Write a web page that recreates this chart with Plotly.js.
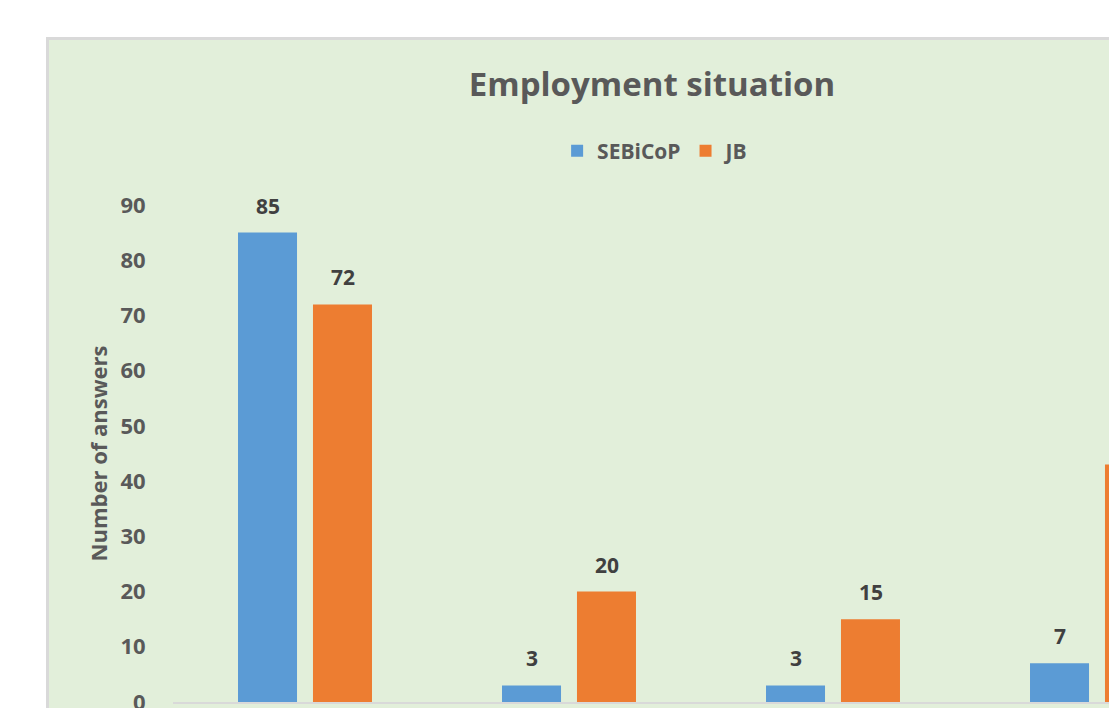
<!DOCTYPE html>
<html>
<head>
<meta charset="utf-8">
<script src="https://cdn.plot.ly/plotly-3.0.1.min.js"></script>
<style>
  html, body { margin:0; padding:0; width:1109px; height:708px; overflow:hidden; background:#ffffff; }
  #frame { position:absolute; left:46px; top:37px; border-top:3px solid #D9D9D9; border-left:3px solid #D9D9D9; background:#E2EFDA; }
  #chart { width:1206px; height:782px; }
</style>
</head>
<body>
<div id="frame"><div id="chart"></div></div>
<script>
// Data (category labels lie below the visible crop of the reference)
const categories = ["Category 1", "Category 2", "Category 3", "Category 4"];
const seriesNames = ["SEBiCoP", "JB"];
const sebicop = [85, 3, 3, 7];
const jb = [72, 20, 15, 43];
const yTicks = [0, 10, 20, 30, 40, 50, 60, 70, 80, 90];

const FONT = "'Open Sans', 'Noto Sans', sans-serif";
const colors = ["#5B9BD5", "#ED7D31"];
const values = [sebicop, jb];

const traces = values.map((v, i) => ({
  type: "bar",
  name: seriesNames[i],
  x: categories,
  y: v,
  marker: { color: colors[i] },
  hoverinfo: "x+y+name"
}));

const annotations = [];
values.forEach((v, i) => {
  v.forEach((val, j) => {
    annotations.push({
      x: categories[j], y: val, xref: "x", yref: "y",
      text: "<b>" + val + "</b>", showarrow: false,
      xshift: (i === 0 ? -37.5 : 37.5), yshift: 27, yanchor: "middle",
      font: { family: FONT, size: 21, color: "#404040" }
    });
  });
});

const H = 782, T = 165, PH = 497;
const layout = {
  width: 1206, height: H,
  paper_bgcolor: "#E2EFDA",
  plot_bgcolor: "#E2EFDA",
  margin: { l: 124, r: 26, t: T, b: H - T - PH, autoexpand: false },
  barmode: "group",
  bargap: 0.432,
  bargroupgap: 0.213,
  title: {
    text: "<b>Employment situation</b>",
    x: 0.5, xanchor: "center", xref: "container",
    y: 1 - 44 / H, yanchor: "middle", yref: "container",
    font: { family: FONT, size: 33, color: "#595959" }
  },
  showlegend: true,
  legend: {
    orientation: "h",
    x: 0.503, xanchor: "center", xref: "container",
    y: 1 + (T - 111) / PH, yanchor: "middle",
    font: { family: FONT, size: 21, color: "#595959", weight: "bold" },
    bgcolor: "rgba(0,0,0,0)",
    itemwidth: 30
  },
  xaxis: {
    type: "category",
    showline: true, linecolor: "#D9D9D9", linewidth: 2,
    showgrid: false, zeroline: false,
    showticklabels: false, ticks: ""
  },
  yaxis: {
    range: [0, 90],
    tickvals: yTicks,
    ticktext: yTicks.map(v => "<b>" + v + "</b>"),
    showgrid: false, zeroline: false, showline: false,
    ticks: "outside", ticklen: 22, tickcolor: "rgba(0,0,0,0)",
    tickfont: { family: FONT, size: 22, color: "#595959" },
    title: { text: "<b>Number of answers</b>", standoff: 6,
      font: { family: FONT, size: 22, color: "#595959" } }
  },
  annotations: annotations
};

Plotly.newPlot("chart", traces, layout, { displayModeBar: false, staticPlot: true });
</script>
</body>
</html>
